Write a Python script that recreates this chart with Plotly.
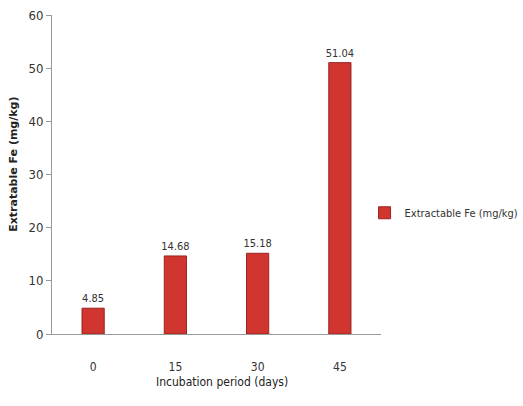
import plotly.graph_objects as go

days = ["0", "15", "30", "45"]
fe_values = [4.85, 14.68, 15.18, 51.04]
value_labels = ["4.85", "14.68", "15.18", "51.04"]
y_ticks = [0, 10, 20, 30, 40, 50, 60]

narrow = "DejaVu Sans Condensed, Liberation Sans Narrow, sans-serif"

fig = go.Figure()
fig.add_trace(go.Bar(
    x=days,
    y=fe_values,
    name="Extractable Fe (mg/kg)",
    text=value_labels,
    textposition="outside",
    constraintext="none",
    textfont=dict(family=narrow, size=11, color="#333333"),
    marker=dict(color="#d0352f", line=dict(color="#9a2420", width=1)),
    cliponaxis=False,
    showlegend=True,
))

fig.update_layout(
    width=523, height=406,
    margin=dict(l=52, r=142, t=15, b=72, autoexpand=False),
    plot_bgcolor="white", paper_bgcolor="white",
    bargap=0.73,
    showlegend=True,
    legend=dict(
        x=0.95, y=0.38, xanchor="left", yanchor="middle",
        font=dict(family=narrow, size=11, color="#333333"),
        itemwidth=30,
    ),
    xaxis=dict(
        showline=True, linecolor="#9a9a9a", linewidth=1,
        ticks="outside", ticklen=22, tickcolor="rgba(0,0,0,0)",
        showgrid=False,
        tickfont=dict(family=narrow, size=12, color="#333333"),
    ),
    yaxis=dict(
        range=[0, 60], tickvals=y_ticks,
        showline=True, linecolor="#9a9a9a", linewidth=1,
        ticks="outside", ticklen=5, tickcolor="#9a9a9a",
        showgrid=False, zeroline=False,
        tickfont=dict(family=narrow, size=13, color="#333333"),
    ),
    annotations=[
        dict(text="Incubation period (days)", xref="paper", yref="paper",
             x=0.518, y=-0.15, xanchor="center", yanchor="middle",
             showarrow=False,
             font=dict(family=narrow, size=12, color="#222222")),
        dict(text="<b>Extratable Fe (mg/kg)</b>", xref="paper", yref="paper",
             x=-0.116, y=0.533, xanchor="center", yanchor="middle",
             textangle=-90, showarrow=False,
             font=dict(family="DejaVu Sans, sans-serif", size=11, color="#222222")),
    ],
)

fig.write_html("out.html")
